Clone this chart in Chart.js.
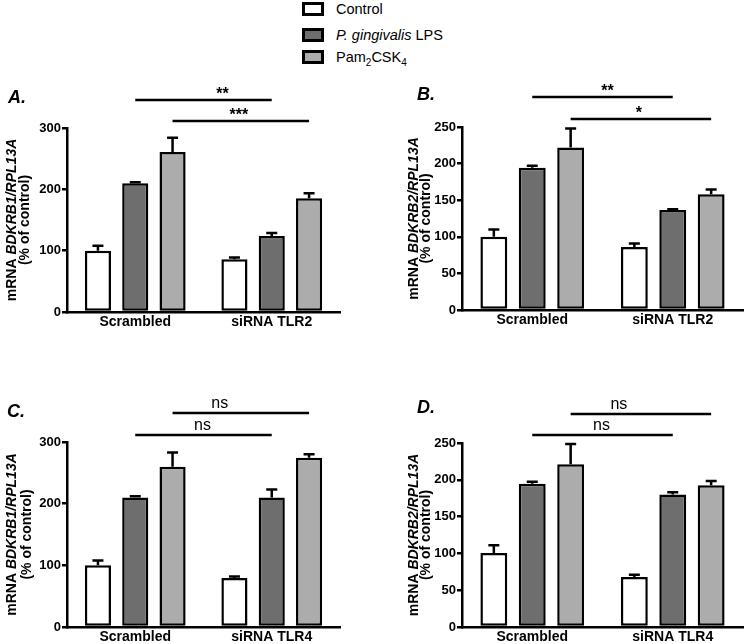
<!DOCTYPE html>
<html>
<head>
<meta charset="utf-8">
<script src="https://cdn.jsdelivr.net/npm/chart.js@4.4.1/dist/chart.umd.min.js"></script>
<style>
  html, body { margin:0; padding:0; background:#fff; width:746px; height:644px; overflow:hidden;
    font-family:"Liberation Sans", Arial, sans-serif; }
  .panel { position:absolute; }
  .lg { position:absolute; left:302px; height:14px; font-size:14.5px; line-height:14px; color:#000; white-space:nowrap; }
  .box { position:absolute; left:0; top:0; width:22px; height:14px; box-sizing:border-box; border:3px solid #000; }
  .lt { position:absolute; left:34px; top:0; }
  sub { font-size:10px; vertical-align:-4px; line-height:0; }
</style>
</head>
<body>
<div id="legend"></div>
<div class="panel" style="left:0;top:70px;width:373px;height:275px"><canvas id="cA"></canvas></div>
<div class="panel" style="left:373px;top:70px;width:373px;height:275px"><canvas id="cB"></canvas></div>
<div class="panel" style="left:0;top:370px;width:373px;height:274px"><canvas id="cC"></canvas></div>
<div class="panel" style="left:373px;top:370px;width:373px;height:274px"><canvas id="cD"></canvas></div>
<script>
// ---------- data ----------
const seriesLabels = ['Control', 'P. gingivalis LPS', 'Pam2CSK4'];
const seriesColors = ['#ffffff', '#6e6e6e', '#acacac'];
const catsTLR2 = ['Scrambled', 'siRNA TLR2'];
const catsTLR4 = ['Scrambled', 'siRNA TLR4'];
const ticksB1 = [0, 100, 200, 300];
const ticksB2 = [0, 50, 100, 150, 200, 250];

// Panel A: BDKRB1, siRNA TLR2
const A_control = [100, 86];
const A_pg      = [210, 124];
const A_pam     = [261, 185.5];
const A_controlErr = [8, 3];
const A_pgErr      = [1.5, 5];
const A_pamErr     = [23, 8];

// Panel B: BDKRB2, siRNA TLR2
const B_control = [100, 86];
const B_pg      = [194.5, 136.5];
const B_pam     = [222, 158];
const B_controlErr = [10, 5];
const B_pgErr      = [2.5, 1];
const B_pamErr     = [26, 6.5];

// Panel C: BDKRB1, siRNA TLR4
const C_control = [100, 79.5];
const C_pg      = [210, 210];
const C_pam     = [260, 274.5];
const C_controlErr = [8, 2.5];
const C_pgErr      = [2, 13];
const C_pamErr     = [23, 5.5];

// Panel D: BDKRB2, siRNA TLR4
const D_control = [100.5, 68];
const D_pg      = [194.5, 180];
const D_pam     = [221, 192.5];
const D_controlErr = [10.5, 3];
const D_pgErr      = [3, 3];
const D_pamErr     = [27.5, 6];

// ---------- legend (HTML) ----------
const legendTexts = ['Control', '<i>P. gingivalis</i> LPS', 'Pam<sub>2</sub>CSK<sub>4</sub>'];
const legendTops = [2, 28, 50];
document.getElementById('legend').innerHTML = seriesLabels.map((s, i) =>
  `<div class="lg" style="top:${legendTops[i]}px"><span class="box" style="background:${seriesColors[i]}"></span><span class="lt">${legendTexts[i]}</span></div>`
).join('');

// ---------- plugins ----------
const FONT = '"Liberation Sans", Arial, sans-serif';

const errorBarPlugin = {
  id: 'errbars',
  afterDatasetsDraw(chart) {
    const ctx = chart.ctx, ys = chart.scales.y;
    ctx.save();
    ctx.strokeStyle = '#000'; ctx.lineWidth = 2.5; ctx.lineCap = 'butt';
    chart.data.datasets.forEach((ds, i) => {
      chart.getDatasetMeta(i).data.forEach((bar, j) => {
        const v = ds.data[j], e = ds.errors[j];
        const y0 = ys.getPixelForValue(v), y1 = ys.getPixelForValue(v + e);
        ctx.beginPath();
        ctx.moveTo(bar.x, y0); ctx.lineTo(bar.x, y1);
        ctx.moveTo(bar.x - 5.5, y1); ctx.lineTo(bar.x + 5.5, y1);
        ctx.stroke();
      });
    });
    ctx.restore();
  }
};

const decorPlugin = {
  id: 'decor',
  afterDraw(chart, args, opts) {
    const ctx = chart.ctx, ca = chart.chartArea;
    ctx.save();
    // panel letter
    ctx.fillStyle = '#000';
    ctx.font = 'italic bold 18px ' + FONT;
    ctx.textAlign = 'left'; ctx.textBaseline = 'alphabetic';
    ctx.fillText(opts.letter, opts.letterX, opts.letterY);
    // y title (rotated, mixed italic)
    const cy = (ca.top + ca.bottom) / 2;
    opts.titleLines.forEach((line, li) => {
      const x = ca.left + opts.titleX[li];
      ctx.save();
      ctx.translate(x, cy);
      ctx.rotate(-Math.PI / 2);
      ctx.textBaseline = 'middle';
      let total = 0;
      line.forEach(seg => { ctx.font = (seg.i ? 'italic ' : '') + 'bold 14px ' + FONT; total += ctx.measureText(seg.t).width; });
      let px = -total / 2;
      line.forEach(seg => {
        ctx.font = (seg.i ? 'italic ' : '') + 'bold 14px ' + FONT;
        ctx.textAlign = 'left';
        ctx.fillText(seg.t, px, 0);
        px += ctx.measureText(seg.t).width;
      });
      ctx.restore();
    });
    // significance brackets
    ctx.strokeStyle = '#000'; ctx.lineWidth = 2.5;
    opts.sig.forEach(s => {
      const meta = chart.getDatasetMeta(s.ds);
      const x1 = meta.data[0].x, x2 = meta.data[1].x;
      const y = ca.top - s.above;
      ctx.beginPath(); ctx.moveTo(x1, y); ctx.lineTo(x2, y); ctx.stroke();
      const isStar = s.text.indexOf('*') >= 0;
      ctx.font = (isStar ? 'bold 16px ' : '16px ') + FONT;
      ctx.textAlign = 'center'; ctx.textBaseline = 'alphabetic';
      ctx.fillText(s.text, (x1 + x2) / 2 + s.dx, y - (isStar ? 1.5 : 5.5));
    });
    ctx.restore();
  }
};

function makeChart(id, cats, vals, errs, ticks, layout, decor) {
  const datasets = seriesLabels.map((lab, i) => ({
    label: lab, data: vals[i], errors: errs[i],
    backgroundColor: seriesColors[i], borderColor: '#000', borderWidth: 2.5, borderSkipped: false,
    categoryPercentage: 0.82, barPercentage: 0.7
  }));
  return new Chart(document.getElementById(id), {
    type: 'bar',
    data: { labels: cats, datasets },
    options: {
      responsive: true, maintainAspectRatio: false, animation: false, devicePixelRatio: 1,
      layout: { padding: layout.padding },
      plugins: { legend: { display: false }, tooltip: { enabled: false }, decor },
      scales: {
        x: {
          grid: { display: false, drawTicks: false },
          border: { display: true, color: '#000', width: 2.5 },
          ticks: { color: '#000', font: { family: FONT, size: 14, weight: 'bold' }, padding: 2 },
          afterFit: s => { s.height = layout.xh; }
        },
        y: {
          min: 0, max: ticks[ticks.length - 1],
          grid: { display: true, drawOnChartArea: false, drawTicks: true, tickLength: 5, color: '#000', lineWidth: 2.5 },
          border: { display: true, color: '#000', width: 2.5 },
          ticks: { color: '#000', font: { family: FONT, size: 13, weight: 'bold' }, padding: 1 },
          afterBuildTicks: s => { s.ticks = ticks.map(v => ({ value: v })); },
          afterFit: s => { s.width = layout.yw; }
        }
      }
    },
    plugins: [errorBarPlugin, decorPlugin]
  });
}

const titleB1 = [[{ t: 'mRNA ', i: false }, { t: 'BDKRB1/RPL13A', i: true }], [{ t: '(% of control)', i: false }]];
const titleB2 = [[{ t: 'mRNA ', i: false }, { t: 'BDKRB2/RPL13A', i: true }], [{ t: '(% of control)', i: false }]];

makeChart('cA', catsTLR2, [A_control, A_pg, A_pam], [A_controlErr, A_pgErr, A_pamErr], ticksB1,
  { padding: { left: 0, right: 33, top: 58, bottom: 11 }, yw: 67, xh: 22 },
  { letter: 'A.', letterX: 8, letterY: 33, titleLines: titleB1, titleX: [-55, -42],
    sig: [{ ds: 1, above: 28, text: '**', dx: 19 }, { ds: 2, above: 7, text: '***', dx: -2 }] });

makeChart('cB', catsTLR2, [B_control, B_pg, B_pam], [B_controlErr, B_pgErr, B_pamErr], ticksB2,
  { padding: { left: 0, right: 3, top: 57, bottom: 13 }, yw: 89, xh: 22 },
  { letter: 'B.', letterX: 44, letterY: 30, titleLines: titleB2, titleX: [-48, -36],
    sig: [{ ds: 1, above: 30, text: '**', dx: 5 }, { ds: 2, above: 8, text: '*', dx: -2 }] });

makeChart('cC', catsTLR4, [C_control, C_pg, C_pam], [C_controlErr, C_pgErr, C_pamErr], ticksB1,
  { padding: { left: 0, right: 33, top: 72, bottom: 0 }, yw: 67, xh: 17 },
  { letter: 'C.', letterX: 7, letterY: 47, titleLines: titleB1, titleX: [-55, -40],
    sig: [{ ds: 2, above: 29, text: 'ns', dx: -21 }, { ds: 1, above: 7, text: 'ns', dx: -1 }] });

makeChart('cD', catsTLR4, [D_control, D_pg, D_pam], [D_controlErr, D_pgErr, D_pamErr], ticksB2,
  { padding: { left: 0, right: 3, top: 73, bottom: 0 }, yw: 89, xh: 17 },
  { letter: 'D.', letterX: 44, letterY: 43, titleLines: titleB2, titleX: [-48, -36],
    sig: [{ ds: 2, above: 29, text: 'ns', dx: -22 }, { ds: 1, above: 8, text: 'ns', dx: -1 }] });
</script>
</body>
</html>
